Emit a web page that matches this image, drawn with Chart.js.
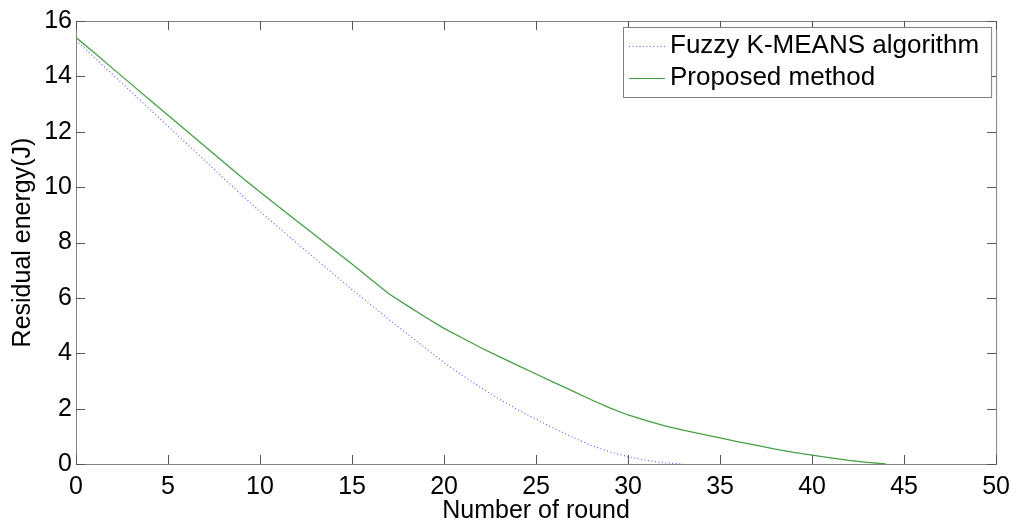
<!DOCTYPE html>
<html>
<head>
<meta charset="utf-8">
<script src="https://cdn.jsdelivr.net/npm/chart.js@4/dist/chart.umd.min.js"></script>
<style>
  body { margin: 0; background: #fff; }
  #wrap { width: 1018px; height: 527px; }
</style>
</head>
<body>
<div id="wrap"><canvas id="energy-chart" width="1018" height="527"></canvas></div>
<script>
// Residual energy per round
const fuzzyRounds = [0, 1, 2, 3, 4, 5, 6, 7, 8, 9, 10, 11, 12, 13, 14, 15, 16, 17, 18, 19, 20,
  21, 22, 23, 24, 25, 26, 27, 28, 29, 30, 31, 32, 33];
const fuzzyEnergy = [15.30, 14.68, 14.06, 13.44, 12.82, 12.20, 11.58, 10.96, 10.34, 9.72, 9.12,
  8.55, 7.98, 7.42, 6.86, 6.30, 5.76, 5.22, 4.70, 4.18, 3.66, 3.20, 2.76, 2.34, 1.96, 1.62,
  1.28, 0.96, 0.67, 0.44, 0.26, 0.13, 0.04, 0];

const proposedRounds = [0, 1, 2, 3, 4, 5, 6, 7, 8, 9, 10, 11, 12, 13, 14, 15, 16, 17, 18, 19, 20,
  21, 22, 23, 24, 25, 26, 27, 28, 29, 30, 31, 32, 33, 34, 35, 36, 37, 38, 39, 40, 41, 42, 43, 44];
const proposedEnergy = [15.40, 14.85, 14.28, 13.72, 13.16, 12.60, 12.04, 11.48, 10.92, 10.36, 9.82,
  9.30, 8.78, 8.26, 7.74, 7.22, 6.68, 6.15, 5.72, 5.30, 4.90, 4.55, 4.20, 3.88, 3.56, 3.25,
  2.94, 2.63, 2.32, 2.03, 1.77, 1.57, 1.38, 1.22, 1.08, 0.94, 0.80, 0.67, 0.54, 0.42, 0.32,
  0.22, 0.13, 0.06, 0];

const seriesLabels = ['Fuzzy K-MEANS algorithm', 'Proposed method'];
const xTitle = 'Number of round';
const yTitle = 'Residual energy(J)';

const FONT = '"Liberation Sans", Arial, sans-serif';
const FUZZY_COLOR = 'rgba(70,70,255,0.85)';
const PROPOSED_COLOR = '#45a045';

function toPoints(xs, ys) {
  return xs.map((x, i) => ({ x: x, y: ys[i] }));
}

// MATLAB style box: inward ticks on all four sides
const boxTicks = {
  id: 'boxTicks',
  afterDraw(chart) {
    const { ctx, chartArea: a, scales } = chart;
    ctx.save();
    ctx.strokeStyle = '#808080';
    ctx.lineWidth = 1;
    ctx.strokeRect(a.left + 0.5, a.top + 0.5, a.right - a.left, a.bottom - a.top);
    ctx.strokeStyle = '#555';
    const len = 9;
    ctx.beginPath();
    scales.x.ticks.forEach(t => {
      const px = Math.round(scales.x.getPixelForValue(t.value)) + 0.5;
      ctx.moveTo(px, a.bottom); ctx.lineTo(px, a.bottom - len);
      ctx.moveTo(px, a.top); ctx.lineTo(px, a.top + len);
    });
    scales.y.ticks.forEach(t => {
      const py = Math.round(scales.y.getPixelForValue(t.value)) + 0.5;
      ctx.moveTo(a.left, py); ctx.lineTo(a.left + len, py);
      ctx.moveTo(a.right, py); ctx.lineTo(a.right - len, py);
    });
    ctx.stroke();
    ctx.restore();
  }
};

// Legend box inside the plot, top right
const boxLegend = {
  id: 'boxLegend',
  afterDraw(chart) {
    const { ctx, chartArea: a } = chart;
    const x0 = 623, y0 = 27, w = a.right - 5 - x0, h = 70;
    ctx.save();
    ctx.fillStyle = '#fff';
    ctx.fillRect(x0, y0, w, h);
    ctx.strokeStyle = '#808080';
    ctx.lineWidth = 1;
    ctx.strokeRect(x0 + 0.5, y0 + 0.5, w, h);
    ctx.font = '26px ' + FONT;
    ctx.textBaseline = 'middle';
    ctx.fillStyle = '#000';
    const rows = [
      { label: seriesLabels[0], color: FUZZY_COLOR, dash: [1, 2.5], y: 46 },
      { label: seriesLabels[1], color: PROPOSED_COLOR, dash: [], y: 78 }
    ];
    rows.forEach(r => {
      ctx.strokeStyle = r.color;
      ctx.setLineDash(r.dash);
      ctx.beginPath();
      ctx.moveTo(629, r.y + 0.5);
      ctx.lineTo(665, r.y + 0.5);
      ctx.stroke();
      ctx.setLineDash([]);
      ctx.fillText(r.label, 670, r.y);
    });
    ctx.restore();
  }
};

new Chart(document.getElementById('energy-chart'), {
  type: 'line',
  data: {
    datasets: [
      {
        label: seriesLabels[0],
        data: toPoints(fuzzyRounds, fuzzyEnergy),
        borderColor: FUZZY_COLOR,
        borderWidth: 1.2,
        borderDash: [1, 2.5],
        pointRadius: 0,
        tension: 0,
        fill: false
      },
      {
        label: seriesLabels[1],
        data: toPoints(proposedRounds, proposedEnergy),
        borderColor: PROPOSED_COLOR,
        borderWidth: 1.3,
        pointRadius: 0,
        tension: 0,
        fill: false
      }
    ]
  },
  options: {
    responsive: false,
    animation: false,
    layout: { padding: { top: 21, right: 20, left: 0, bottom: 0 } },
    plugins: {
      legend: { display: false },
      tooltip: { enabled: false }
    },
    scales: {
      x: {
        type: 'linear',
        min: 0,
        max: 50,
        grid: { display: false, drawTicks: false },
        border: { display: false },
        ticks: {
          stepSize: 5,
          padding: 8,
          color: '#000',
          font: { family: FONT, size: 25 },
          maxRotation: 0
        },
        title: {
          display: true,
          text: xTitle,
          color: '#000',
          font: { family: FONT, size: 25 },
          padding: { top: 0, bottom: 1 }
        },
        afterFit(scale) { scale.height = 63; }
      },
      y: {
        min: 0,
        max: 16,
        grid: { display: false, drawTicks: false },
        border: { display: false },
        ticks: {
          stepSize: 2,
          padding: 4,
          color: '#000',
          font: { family: FONT, size: 25 }
        },
        title: {
          display: true,
          text: yTitle,
          color: '#000',
          font: { family: FONT, size: 25 },
          padding: { top: 8, bottom: 0 }
        },
        afterFit(scale) { scale.width = 76; }
      }
    }
  },
  plugins: [boxTicks, boxLegend]
});
</script>
</body>
</html>
